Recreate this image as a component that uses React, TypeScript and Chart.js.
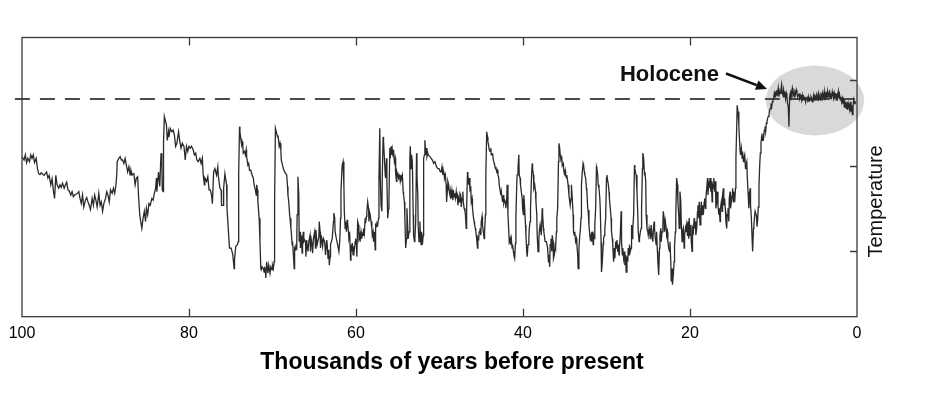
import React, { useEffect, useRef } from "react";
import { Chart, registerables } from "chart.js";

Chart.register(...registerables);

// Age in thousands of years before present
const AGE_KYR = [
  100.0, 99.75, 99.6, 99.45, 99.3, 99.1, 98.95, 98.8, 98.65, 98.5,
  98.3, 98.15, 98.0, 97.85, 97.7, 97.5, 97.35, 97.2, 97.05, 96.9,
  96.75, 96.55, 96.4, 96.25, 96.1, 95.95, 95.8, 95.6, 95.45, 95.3,
  95.15, 94.95, 94.8, 94.65, 94.5, 94.35, 94.15, 94.0, 93.85, 93.7,
  93.55, 93.35, 93.2, 93.05, 92.9, 92.75, 92.6, 92.4, 92.25, 92.1,
  91.95, 91.8, 91.6, 91.45, 91.3, 91.15, 91.0, 90.8, 90.65, 90.5,
  90.35, 90.2, 90.0, 89.85, 89.7, 89.55, 89.4, 89.2, 89.05, 88.9,
  88.75, 88.65, 88.6, 88.4, 88.25, 88.1, 87.95, 87.8, 87.65, 87.5,
  87.35, 87.2, 87.05, 86.95, 86.8, 86.6, 86.45, 86.3, 86.15, 86.05,
  85.9, 85.75, 85.65, 85.5, 85.35, 85.2, 85.1, 84.95, 84.8, 84.65,
  84.45, 84.3, 84.15, 84.0, 83.9, 83.85, 83.65, 83.5, 83.45, 83.35,
  83.25, 83.2, 83.1, 83.05, 82.95, 82.85, 82.7, 82.6, 82.45, 82.4,
  82.25, 82.05, 81.9, 81.75, 81.6, 81.45, 81.25, 81.1, 80.95, 80.8,
  80.6, 80.45, 80.3, 80.15, 80.0, 79.85, 79.7, 79.5, 79.35, 79.2,
  79.05, 78.9, 78.7, 78.55, 78.4, 78.3, 78.15, 78.1, 77.9, 77.75,
  77.6, 77.45, 77.3, 77.2, 77.05, 76.9, 76.7, 76.55, 76.5, 76.3,
  76.15, 76.1, 75.9, 75.85, 75.7, 75.5, 75.45, 75.3, 75.15, 74.95,
  74.75, 74.6, 74.55, 74.4, 74.2, 74.1, 74.05, 73.95, 73.9, 73.8,
  73.7, 73.65, 73.55, 73.5, 73.35, 73.25, 73.15, 73.1, 72.95, 72.85,
  72.75, 72.6, 72.45, 72.3, 72.2, 72.05, 71.95, 71.9, 71.8, 71.75,
  71.6, 71.5, 71.4, 71.35, 71.25, 71.1, 71.0, 70.95, 70.85, 70.8,
  70.7, 70.6, 70.55, 70.45, 70.3, 70.2, 70.05, 70.0, 69.9, 69.8,
  69.75, 69.65, 69.6, 69.5, 69.4, 69.35, 69.25, 69.2, 69.1, 69.0,
  68.95, 68.85, 68.7, 68.55, 68.4, 68.3, 68.2, 68.15, 68.05, 67.95,
  67.9, 67.8, 67.75, 67.65, 67.6, 67.5, 67.4, 67.35, 67.25, 67.2,
  67.1, 67.05, 66.95, 66.85, 66.8, 66.7, 66.65, 66.55, 66.45, 66.4,
  66.3, 66.25, 66.15, 66.05, 66.0, 65.9, 65.85, 65.75, 65.65, 65.5,
  65.45, 65.35, 65.25, 65.2, 65.1, 64.95, 64.85, 64.8, 64.7, 64.65,
  64.45, 64.4, 64.3, 64.25, 64.15, 64.0, 63.9, 63.75, 63.65, 63.5,
  63.45, 63.35, 63.25, 63.2, 63.1, 63.05, 62.85, 62.7, 62.65, 62.55,
  62.5, 62.35, 62.2, 62.05, 61.95, 61.85, 61.8, 61.7, 61.65, 61.55,
  61.45, 61.4, 61.3, 61.25, 61.15, 61.05, 61.0, 60.9, 60.85, 60.75,
  60.65, 60.6, 60.5, 60.45, 60.35, 60.25, 60.2, 60.1, 60.05, 59.95,
  59.9, 59.8, 59.7, 59.65, 59.55, 59.5, 59.4, 59.3, 59.25, 59.15,
  59.1, 59.0, 58.9, 58.85, 58.75, 58.7, 58.6, 58.5, 58.45, 58.35,
  58.3, 58.2, 58.1, 58.05, 57.95, 57.9, 57.8, 57.7, 57.65, 57.55,
  57.5, 57.4, 57.3, 57.25, 57.15, 57.1, 57.0, 56.9, 56.85, 56.75,
  56.7, 56.6, 56.5, 56.45, 56.35, 56.3, 56.2, 56.1, 56.05, 55.95,
  55.9, 55.8, 55.7, 55.65, 55.55, 55.5, 55.4, 55.3, 55.25, 55.15,
  55.1, 55.0, 54.9, 54.85, 54.75, 54.7, 54.6, 54.55, 54.45, 54.35,
  54.3, 54.2, 54.15, 54.05, 53.95, 53.9, 53.8, 53.75, 53.65, 53.55,
  53.5, 53.4, 53.35, 53.25, 53.15, 53.1, 53.0, 52.95, 52.85, 52.75,
  52.7, 52.6, 52.55, 52.45, 52.35, 52.3, 52.2, 52.15, 52.05, 51.95,
  51.9, 51.8, 51.75, 51.65, 51.55, 51.5, 51.4, 51.35, 51.15, 51.0,
  50.85, 50.7, 50.55, 50.35, 50.2, 50.05, 49.9, 49.8, 49.7, 49.6,
  49.55, 49.45, 49.4, 49.3, 49.2, 49.15, 49.05, 49.0, 48.9, 48.8,
  48.75, 48.65, 48.6, 48.5, 48.4, 48.35, 48.25, 48.2, 48.1, 48.0,
  47.95, 47.85, 47.8, 47.7, 47.6, 47.55, 47.45, 47.4, 47.3, 47.2,
  47.15, 47.05, 46.95, 46.9, 46.8, 46.75, 46.65, 46.6, 46.5, 46.45,
  46.35, 46.25, 46.2, 46.1, 46.05, 45.95, 45.85, 45.8, 45.7, 45.65,
  45.55, 45.45, 45.4, 45.3, 45.25, 45.15, 45.05, 45.0, 44.9, 44.85,
  44.75, 44.65, 44.6, 44.5, 44.45, 44.35, 44.25, 44.2, 44.1, 44.05,
  43.95, 43.85, 43.8, 43.7, 43.65, 43.55, 43.45, 43.4, 43.3, 43.25,
  43.15, 43.05, 43.0, 42.9, 42.85, 42.75, 42.65, 42.6, 42.5, 42.45,
  42.35, 42.3, 42.2, 42.1, 42.05, 41.95, 41.9, 41.8, 41.7, 41.65,
  41.55, 41.5, 41.4, 41.3, 41.25, 41.15, 41.1, 41.0, 40.9, 40.85,
  40.75, 40.7, 40.6, 40.5, 40.45, 40.35, 40.3, 40.2, 40.1, 40.05,
  39.95, 39.9, 39.8, 39.7, 39.65, 39.55, 39.5, 39.4, 39.3, 39.25,
  39.15, 39.1, 39.0, 38.9, 38.85, 38.75, 38.7, 38.6, 38.5, 38.45,
  38.35, 38.3, 38.2, 38.1, 38.05, 37.95, 37.9, 37.8, 37.7, 37.65,
  37.55, 37.5, 37.4, 37.35, 37.2, 37.05, 36.95, 36.9, 36.8, 36.75,
  36.65, 36.55, 36.5, 36.4, 36.35, 36.25, 36.15, 36.1, 36.0, 35.95,
  35.85, 35.75, 35.7, 35.6, 35.55, 35.45, 35.35, 35.3, 35.2, 35.15,
  35.05, 34.95, 34.9, 34.8, 34.75, 34.65, 34.6, 34.5, 34.4, 34.35,
  34.25, 34.2, 34.1, 34.0, 33.95, 33.85, 33.8, 33.7, 33.6, 33.55,
  33.45, 33.4, 33.3, 33.2, 33.15, 33.05, 33.0, 32.9, 32.8, 32.75,
  32.65, 32.6, 32.5, 32.4, 32.35, 32.25, 32.2, 32.1, 32.0, 31.95,
  31.85, 31.8, 31.7, 31.6, 31.55, 31.45, 31.4, 31.3, 31.2, 31.15,
  31.05, 31.0, 30.9, 30.8, 30.75, 30.65, 30.6, 30.5, 30.4, 30.35,
  30.25, 30.2, 30.1, 30.0, 29.95, 29.85, 29.8, 29.7, 29.65, 29.55,
  29.45, 29.4, 29.3, 29.25, 29.15, 29.05, 29.0, 28.9, 28.85, 28.75,
  28.65, 28.6, 28.5, 28.45, 28.35, 28.25, 28.2, 28.1, 28.05, 27.95,
  27.85, 27.8, 27.7, 27.65, 27.55, 27.45, 27.4, 27.3, 27.25, 27.15,
  27.05, 27.0, 26.9, 26.85, 26.75, 26.65, 26.6, 26.5, 26.45, 26.35,
  26.25, 26.2, 26.1, 26.05, 25.95, 25.85, 25.8, 25.7, 25.65, 25.55,
  25.45, 25.4, 25.3, 25.25, 25.15, 25.05, 25.0, 24.9, 24.85, 24.75,
  24.7, 24.65, 24.55, 24.45, 24.4, 24.3, 24.25, 24.15, 24.05, 24.0,
  23.9, 23.85, 23.75, 23.65, 23.6, 23.5, 23.45, 23.35, 23.25, 23.2,
  23.1, 23.05, 22.95, 22.85, 22.8, 22.7, 22.65, 22.55, 22.45, 22.4,
  22.3, 22.25, 22.15, 22.1, 22.0, 21.9, 21.85, 21.75, 21.7, 21.6,
  21.5, 21.45, 21.35, 21.3, 21.2, 21.1, 21.05, 20.95, 20.9, 20.8,
  20.7, 20.65, 20.55, 20.5, 20.4, 20.3, 20.25, 20.15, 20.1, 20.0,
  19.9, 19.85, 19.75, 19.7, 19.6, 19.5, 19.45, 19.35, 19.3, 19.2,
  19.1, 19.05, 18.95, 18.9, 18.8, 18.7, 18.65, 18.55, 18.5, 18.4,
  18.3, 18.25, 18.15, 18.1, 18.0, 17.9, 17.85, 17.75, 17.7, 17.6,
  17.5, 17.45, 17.35, 17.3, 17.2, 17.15, 17.05, 16.95, 16.9, 16.8,
  16.75, 16.65, 16.55, 16.5, 16.4, 16.35, 16.25, 16.15, 16.1, 16.0,
  15.95, 15.85, 15.75, 15.7, 15.6, 15.55, 15.45, 15.35, 15.3, 15.2,
  15.15, 15.05, 14.95, 14.9, 14.8, 14.75, 14.65, 14.55, 14.5, 14.4,
  14.35, 14.25, 14.15, 14.1, 14.0, 13.95, 13.85, 13.75, 13.7, 13.6,
  13.55, 13.45, 13.35, 13.3, 13.2, 13.15, 13.05, 12.95, 12.9, 12.8,
  12.75, 12.65, 12.55, 12.5, 12.4, 12.35, 12.25, 12.2, 12.05, 11.98,
  11.9, 11.82, 11.74, 11.66, 11.58, 11.5, 11.42, 11.34, 11.26, 11.18,
  11.1, 11.02, 10.94, 10.86, 10.78, 10.7, 10.62, 10.54, 10.46, 10.38,
  10.3, 10.22, 10.14, 10.06, 9.98, 9.9, 9.82, 9.75, 9.67, 9.59,
  9.51, 9.43, 9.35, 9.27, 9.19, 9.11, 9.03, 8.95, 8.87, 8.79,
  8.71, 8.63, 8.55, 8.47, 8.39, 8.31, 8.23, 8.15, 8.07, 7.99,
  7.91, 7.83, 7.75, 7.67, 7.59, 7.51, 7.43, 7.35, 7.27, 7.19,
  7.11, 7.03, 6.95, 6.87, 6.79, 6.71, 6.63, 6.55, 6.47, 6.39,
  6.31, 6.23, 6.15, 6.07, 5.99, 5.91, 5.83, 5.75, 5.67, 5.59,
  5.51, 5.43, 5.35, 5.27, 5.19, 5.11, 5.03, 4.95, 4.87, 4.79,
  4.72, 4.64, 4.56, 4.48, 4.4, 4.32, 4.24, 4.16, 4.08, 4.0,
  3.92, 3.84, 3.76, 3.68, 3.6, 3.52, 3.44, 3.36, 3.28, 3.2,
  3.12, 3.04, 2.96, 2.88, 2.8, 2.72, 2.64, 2.56, 2.48, 2.4,
  2.32, 2.24, 2.16, 2.08, 2.0, 1.92, 1.84, 1.76, 1.68, 1.6,
  1.52, 1.44, 1.36, 1.28, 1.2, 1.12, 1.04, 0.96, 0.88, 0.8,
  0.72, 0.64, 0.56, 0.48, 0.4, 0.32, 0.24, 0.1,
];

// Temperature proxy (arbitrary units; axis ticks sit at 10, 20, 30)
const TEMP = [
  21.1, 20.7, 21.3, 20.4, 20.9, 20.5, 21.3, 20.9, 21.3, 20.4,
  20.9, 19.7, 19.1, 19.0, 19.2, 19.0, 18.9, 19.1, 19.3, 18.6,
  18.9, 17.8, 18.5, 17.2, 16.2, 18.9, 17.8, 17.4, 17.8, 17.5,
  18.0, 17.4, 17.8, 18.1, 17.2, 17.1, 16.6, 17.0, 16.4, 16.6,
  16.7, 16.8, 17.0, 16.2, 15.6, 16.6, 15.2, 16.0, 16.3, 15.8,
  15.4, 14.9, 16.2, 15.4, 16.6, 16.0, 15.2, 16.8, 15.4, 15.8,
  14.7, 15.6, 16.2, 17.0, 16.6, 15.8, 17.2, 16.8, 17.4, 16.8,
  17.8, 19.0, 20.5, 20.9, 21.1, 20.7, 20.7, 20.3, 20.9, 20.1,
  19.3, 19.9, 18.95, 19.5, 18.95, 19.1, 17.8, 18.6, 18.75, 16.6,
  14.3, 13.3, 12.7, 13.9, 14.7, 13.5, 15.05, 14.3, 15.6, 15.4,
  16.2, 16.0, 16.8, 17.4, 18.6, 17.0, 19.3, 17.6, 18.95, 21.5,
  20.1, 17.2, 17.0, 22.85, 25.8, 25.4, 24.8, 23.0, 24.0, 23.4,
  24.4, 24.0, 24.2, 23.6, 22.3, 22.65, 24.0, 22.85, 22.1, 22.65,
  22.3, 20.7, 22.3, 21.7, 22.3, 22.1, 22.3, 21.9, 21.3, 21.5,
  20.7, 20.5, 20.9, 20.3, 20.9, 18.95, 17.8, 18.6, 18.2, 18.75,
  17.2, 17.2, 16.6, 15.6, 19.3, 19.7, 18.95, 19.9, 18.95, 17.4,
  17.2, 15.4, 15.4, 17.4, 19.1, 17.8, 15.05, 12.7, 10.4, 10.4,
  9.6, 8.0, 9.0, 10.6, 10.8, 11.15, 19.0, 24.6, 24.0, 23.2,
  22.5, 22.85, 22.3, 21.5, 21.7, 21.3, 21.9, 21.1, 20.1, 20.3,
  19.5, 19.5, 18.95, 18.6, 17.8, 17.2, 16.6, 17.8, 17.2, 15.8,
  13.9, 11.15, 8.0, 7.85, 8.2, 8.0, 7.6, 8.2, 7.6, 6.9,
  8.8, 8.0, 7.45, 8.4, 7.45, 8.2, 7.85, 8.4, 8.0, 8.8,
  15.8, 24.4, 24.4, 23.8, 23.4, 23.6, 22.85, 22.3, 22.65, 21.9,
  20.7, 20.3, 19.7, 19.3, 19.1, 18.95, 17.6, 16.6, 15.8, 14.3,
  13.9, 12.7, 12.3, 10.8, 11.15, 9.6, 8.0, 10.4, 10.2, 10.6,
  10.4, 14.3, 18.75, 16.6, 11.15, 12.3, 10.4, 11.9, 9.8, 11.5,
  12.3, 11.15, 11.35, 11.15, 9.4, 11.35, 10.8, 10.0, 11.15, 11.9,
  10.0, 11.35, 10.8, 9.8, 11.5, 12.3, 10.4, 12.5, 11.15, 10.8,
  11.7, 13.5, 12.3, 10.4, 11.9, 10.6, 11.5, 11.15, 9.6, 11.35,
  10.8, 9.2, 10.2, 8.4, 9.4, 10.8, 11.5, 13.5, 14.5, 13.9,
  12.3, 11.5, 10.8, 10.0, 11.15, 13.9, 17.0, 19.3, 20.1, 20.5,
  17.8, 14.7, 12.7, 13.5, 12.3, 13.7, 13.3, 12.3, 11.5, 11.9,
  9.0, 10.8, 10.0, 11.0, 9.6, 10.6, 10.2, 11.15, 11.5, 10.8,
  9.4, 13.5, 13.1, 11.5, 11.9, 11.15, 12.3, 11.5, 12.1, 11.9,
  12.7, 12.1, 13.9, 13.3, 14.1, 14.7, 15.8, 15.05, 13.5, 14.5,
  14.3, 13.5, 12.7, 11.9, 12.3, 11.15, 12.3, 10.2, 13.1, 12.9,
  13.3, 13.1, 13.9, 18.6, 24.4, 18.95, 15.4, 14.7, 18.95, 23.4,
  22.85, 20.9, 18.95, 18.6, 20.9, 18.2, 13.9, 15.05, 16.2, 22.1,
  20.9, 22.3, 21.3, 21.9, 21.1, 21.9, 20.5, 20.9, 19.1, 18.2,
  19.3, 18.95, 18.6, 18.95, 18.6, 18.2, 18.75, 18.6, 18.95, 17.0,
  16.6, 15.8, 13.9, 10.4, 11.5, 15.05, 12.7, 11.5, 12.3, 20.9,
  22.3, 19.7, 21.3, 20.5, 14.3, 11.9, 11.15, 11.5, 13.5, 21.5,
  18.95, 16.6, 12.9, 11.15, 13.5, 12.3, 10.8, 12.3, 10.8, 11.9,
  20.9, 21.3, 23.0, 21.3, 22.1, 21.1, 21.5, 21.3, 21.1, 20.9,
  20.7, 20.3, 20.5, 19.9, 19.7, 19.7, 19.3, 19.3, 19.9, 18.95,
  19.5, 19.1, 18.6, 18.95, 17.8, 15.8, 17.2, 18.2, 17.8, 16.8,
  16.6, 17.2, 16.2, 17.0, 16.0, 17.2, 16.4, 16.8, 16.2, 17.0,
  16.4, 16.6, 15.4, 16.2, 15.8, 16.8, 16.6, 15.2, 16.2, 17.0,
  15.8, 15.05, 14.7, 14.3, 12.7, 15.05, 19.3, 18.95, 17.8, 18.6,
  17.2, 17.4, 15.8, 16.2, 15.05, 14.1, 13.5, 13.1, 12.7, 12.3,
  11.5, 10.4, 11.7, 11.5, 12.3, 12.7, 11.9, 13.5, 14.1, 13.1,
  12.3, 11.5, 12.3, 14.3, 18.95, 24.0, 23.4, 22.85, 22.3, 21.9,
  21.7, 22.1, 21.3, 21.3, 21.5, 20.7, 20.3, 20.1, 19.7, 19.9,
  19.3, 19.5, 18.95, 18.6, 17.8, 17.2, 16.6, 17.0, 16.2, 15.8,
  16.6, 15.6, 16.0, 15.8, 15.05, 16.2, 17.8, 14.3, 12.3, 11.15,
  11.5, 10.8, 11.5, 10.4, 10.8, 10.0, 9.6, 9.2, 10.96, 13.9,
  17.8, 18.95, 19.7, 21.3, 18.95, 18.6, 17.8, 17.0, 16.2, 15.05,
  14.3, 16.6, 15.05, 13.1, 11.9, 9.98, 9.4, 10.8, 11.5, 12.7,
  13.5, 15.05, 18.2, 20.3, 19.7, 18.95, 17.4, 17.8, 17.0, 15.8,
  14.3, 11.9, 9.98, 11.5, 12.3, 13.1, 12.7, 11.9, 15.05, 14.3,
  12.7, 12.3, 11.5, 11.15, 11.15, 10.4, 8.8, 9.6, 8.2, 10.8,
  11.5, 10.0, 11.9, 11.15, 9.2, 9.6, 10.6, 10.4, 12.3, 13.9,
  15.05, 20.5, 22.65, 22.1, 21.3, 20.7, 20.9, 20.1, 20.3, 19.7,
  19.1, 19.5, 18.95, 18.6, 18.95, 18.2, 17.8, 16.6, 15.8, 15.4,
  16.2, 17.8, 16.2, 14.3, 12.3, 11.9, 12.3, 11.15, 11.5, 10.8,
  9.6, 8.0, 10.4, 11.9, 12.3, 13.9, 17.8, 19.3, 20.3, 20.1,
  19.3, 18.95, 18.6, 17.4, 17.0, 15.05, 14.85, 13.1, 11.9, 11.5,
  11.9, 11.15, 12.3, 10.8, 11.9, 11.5, 13.1, 15.05, 19.9, 19.7,
  18.95, 17.8, 17.4, 16.2, 15.05, 11.15, 7.6, 8.8, 10.8, 11.5,
  11.9, 12.7, 13.9, 18.6, 18.95, 18.2, 18.0, 17.0, 16.2, 15.05,
  13.9, 12.3, 11.5, 10.8, 8.8, 10.4, 9.2, 11.15, 10.4, 11.35,
  9.98, 10.8, 9.6, 10.4, 11.9, 14.7, 11.15, 9.6, 10.4, 9.2,
  10.0, 8.4, 9.6, 7.6, 9.4, 8.8, 10.4, 9.6, 10.8, 10.0,
  10.4, 13.1, 11.5, 12.7, 14.3, 20.1, 19.7, 19.1, 18.95, 17.0,
  14.3, 12.3, 11.15, 11.5, 12.3, 12.7, 15.05, 19.7, 21.5, 20.9,
  18.95, 19.3, 18.2, 14.3, 12.7, 12.3, 11.9, 12.7, 12.3, 11.5,
  12.3, 13.1, 11.9, 11.15, 12.3, 13.5, 12.7, 11.5, 10.8, 12.3,
  10.0, 8.8, 7.25, 10.4, 11.9, 12.7, 11.15, 12.3, 13.1, 14.7,
  13.9, 12.3, 13.5, 12.7, 11.9, 12.3, 11.15, 10.4, 10.0, 11.15,
  8.8, 6.5, 8.0, 6.1, 7.25, 8.8, 10.8, 12.3, 14.3, 18.6,
  17.8, 15.8, 14.3, 12.7, 17.0, 15.8, 13.5, 11.15, 12.3, 12.7,
  10.4, 11.9, 12.7, 12.3, 13.1, 11.9, 13.5, 11.5, 13.9, 11.9,
  13.1, 11.15, 10.0, 12.7, 12.3, 13.9, 12.7, 13.5, 11.9, 12.7,
  14.7, 15.4, 13.9, 15.8, 13.1, 15.05, 15.8, 14.3, 15.4, 14.3,
  15.8, 16.2, 15.05, 16.2, 17.4, 18.6, 16.6, 18.2, 17.4, 18.6,
  17.0, 18.2, 15.8, 17.8, 17.4, 18.6, 17.0, 18.2, 15.05, 15.8,
  17.0, 15.4, 14.3, 15.05, 13.5, 15.05, 15.8, 14.7, 16.6, 17.4,
  15.4, 16.2, 14.7, 13.5, 12.7, 14.3, 15.05, 13.5, 16.2, 17.0,
  15.05, 15.8, 16.6, 17.4, 15.8, 17.0, 15.8, 17.4, 20.9, 24.8,
  27.1, 26.35, 24.8, 23.6, 21.7, 21.3, 22.1, 20.9, 21.7, 20.5,
  20.9, 21.3, 19.7, 20.1, 20.5, 18.95, 17.0, 15.05, 16.2, 17.4,
  15.4, 13.9, 11.15, 10.0, 12.7, 13.1, 14.3, 14.7, 14.2, 12.9,
  13.7, 15.2, 17.6, 19.9, 21.5, 22.65, 23.4, 23.0, 23.8, 23.4,
  24.2, 24.6, 24.0, 25.0, 25.2, 25.6, 25.8, 26.0, 26.55, 26.75,
  27.3, 26.9, 27.5, 27.7, 27.9, 28.5, 28.1, 28.7, 28.3, 28.9,
  28.5, 29.1, 28.1, 28.7, 28.5, 28.9, 29.5, 28.5, 28.3, 28.9,
  28.1, 28.7, 27.9, 28.5, 28.1, 27.3, 26.9, 24.6, 28.1, 28.5,
  27.7, 28.7, 29.1, 28.3, 28.5, 28.1, 28.7, 28.5, 28.9, 28.5,
  28.1, 28.3, 28.5, 27.9, 28.3, 28.1, 27.7, 28.3, 27.9, 28.1,
  27.7, 28.1, 27.5, 27.9, 28.1, 27.7, 28.1, 27.5, 27.9, 27.7,
  28.1, 27.9, 27.5, 27.9, 28.3, 27.7, 28.1, 27.9, 28.3, 27.7,
  28.1, 28.5, 27.9, 28.1, 27.7, 28.3, 28.1, 28.5, 27.9, 28.1,
  28.7, 27.7, 28.3, 28.5, 27.9, 28.7, 28.1, 28.5, 28.7, 27.9,
  28.5, 28.1, 28.7, 28.3, 27.9, 28.5, 28.1, 28.3, 27.7, 28.5,
  28.1, 28.7, 27.9, 28.3, 27.7, 28.1, 27.5, 27.9, 27.3, 27.7,
  26.9, 27.5, 27.3, 26.75, 27.5, 26.55, 27.3, 26.9, 26.55, 27.5,
  26.35, 27.1, 26.0, 26.9, 27.7, 27.3, 27.5, 27.4,
];

const X_TICKS = [100, 80, 60, 40, 20, 0];
const Y_TICKS = [10, 20, 30];
const Y_RANGE = [2.37, 35.03];
const REFERENCE_LEVEL = 27.84; // dashed modern reference line
const REFERENCE_SPAN = [100.85, -0.1];
const HOLOCENE_ZONE = { age: 5.03, temp: 27.66, ageRadius: 5.87, tempRadius: 4.09 };
const HOLOCENE_LABEL = { text: "Holocene", age: 16.53, temp: 30.64 };
const HOLOCENE_ARROW = { fromAge: 15.69, fromTemp: 30.82, toAge: 10.78, toTemp: 29.0 };
const X_TITLE = "Thousands of years before present";
const X_TITLE_AGE = 48.5;
const Y_TITLE = "Temperature";
const Y_TITLE_TEMP = 15.85;

const FONT = '"Liberation Sans", Arial, Helvetica, sans-serif';

const overlayPlugin = {
  id: "overlay",
  beforeDraw(chart: any) {
    const { ctx, scales } = chart;
    const x = scales.x;
    const y = scales.y;
    const cx = x.getPixelForValue(HOLOCENE_ZONE.age);
    const cy = y.getPixelForValue(HOLOCENE_ZONE.temp);
    const rx = Math.abs(x.getPixelForValue(HOLOCENE_ZONE.age + HOLOCENE_ZONE.ageRadius) - cx);
    const ry = Math.abs(y.getPixelForValue(HOLOCENE_ZONE.temp + HOLOCENE_ZONE.tempRadius) - cy);
    ctx.save();
    ctx.fillStyle = "#d9d9d9";
    ctx.beginPath();
    ctx.ellipse(cx, cy, rx, ry, 0, 0, Math.PI * 2);
    ctx.fill();
    ctx.restore();
  },
  afterDraw(chart: any) {
    const { ctx, chartArea, scales } = chart;
    const { left, right, top, bottom } = chartArea;
    const x = scales.x;
    const y = scales.y;
    ctx.save();
    // frame
    ctx.strokeStyle = "#3a3a3a";
    ctx.lineWidth = 1.3;
    ctx.strokeRect(left, top, right - left, bottom - top);
    // inward ticks
    ctx.beginPath();
    X_TICKS.forEach((v) => {
      if (v <= 0 || v >= 100) return;
      const px = Math.round(x.getPixelForValue(v)) + 0.5;
      ctx.moveTo(px, bottom);
      ctx.lineTo(px, bottom - 8);
      ctx.moveTo(px, top);
      ctx.lineTo(px, top + 8);
    });
    Y_TICKS.forEach((v) => {
      const py = Math.round(y.getPixelForValue(v)) + 0.5;
      ctx.moveTo(right, py);
      ctx.lineTo(right - 7, py);
    });
    ctx.stroke();

    // Holocene label
    ctx.fillStyle = "#111";
    ctx.font = `bold 22px ${FONT}`;
    ctx.textAlign = "right";
    ctx.textBaseline = "middle";
    ctx.fillText(
      HOLOCENE_LABEL.text,
      x.getPixelForValue(HOLOCENE_LABEL.age),
      y.getPixelForValue(HOLOCENE_LABEL.temp)
    );

    // arrow
    const x1 = x.getPixelForValue(HOLOCENE_ARROW.fromAge);
    const y1 = y.getPixelForValue(HOLOCENE_ARROW.fromTemp);
    const x2 = x.getPixelForValue(HOLOCENE_ARROW.toAge);
    const y2 = y.getPixelForValue(HOLOCENE_ARROW.toTemp);
    const ang = Math.atan2(y2 - y1, x2 - x1);
    const head = 11;
    const half = 5;
    const bx = x2 - head * Math.cos(ang);
    const by = y2 - head * Math.sin(ang);
    ctx.strokeStyle = "#111";
    ctx.lineWidth = 2.6;
    ctx.beginPath();
    ctx.moveTo(x1, y1);
    ctx.lineTo(bx, by);
    ctx.stroke();
    ctx.beginPath();
    ctx.moveTo(x2, y2);
    ctx.lineTo(bx + half * Math.sin(ang), by - half * Math.cos(ang));
    ctx.lineTo(bx - half * Math.sin(ang), by + half * Math.cos(ang));
    ctx.closePath();
    ctx.fill();

    // x-axis title
    ctx.fillStyle = "#000";
    ctx.font = `bold 23px ${FONT}`;
    ctx.textAlign = "center";
    ctx.textBaseline = "alphabetic";
    ctx.fillText(X_TITLE, x.getPixelForValue(X_TITLE_AGE), bottom + 52.6);

    // right-hand axis title, reading bottom to top
    ctx.translate(right + 25, y.getPixelForValue(Y_TITLE_TEMP));
    ctx.rotate(-Math.PI / 2);
    ctx.font = `20px ${FONT}`;
    ctx.textAlign = "center";
    ctx.textBaseline = "alphabetic";
    ctx.fillStyle = "#111";
    ctx.fillText(Y_TITLE, 0, 0);
    ctx.restore();
  },
};

export default function App() {
  const ref = useRef<HTMLCanvasElement | null>(null);

  useEffect(() => {
    const canvas = ref.current;
    if (!canvas) return;
    Chart.defaults.font.family = FONT;
    const n = Math.min(AGE_KYR.length, TEMP.length);
    const series: { x: number; y: number }[] = [];
    for (let i = 0; i < n; i++) series.push({ x: AGE_KYR[i], y: TEMP[i] });
    const reference = REFERENCE_SPAN.map((a) => ({ x: a, y: REFERENCE_LEVEL }));

    const chart = new Chart(canvas, {
      type: "line",
      data: {
        datasets: [
          {
            label: "Temperature",
            data: series,
            borderColor: "#2a2a2a",
            borderWidth: 1.3,
            pointRadius: 0,
            tension: 0,
            fill: false,
          },
          {
            label: "Reference",
            data: reference,
            borderColor: "#4a4a4a",
            borderWidth: 2,
            borderDash: [15, 10],
            pointRadius: 0,
            fill: false,
            clip: false,
          } as any,
        ],
      },
      options: {
        responsive: false,
        animation: false,
        events: [],
        layout: { padding: { left: 22, top: 37.5, right: 0, bottom: 0 } },
        plugins: { legend: { display: false }, tooltip: { enabled: false } },
        scales: {
          x: {
            type: "linear",
            reverse: true,
            min: 0,
            max: 100,
            position: "bottom",
            afterBuildTicks: (s: any) => {
              s.ticks = X_TICKS.map((v) => ({ value: v }));
            },
            afterFit: (s: any) => {
              s.height = 87.3;
            },
            grid: { display: false, drawTicks: false },
            border: { display: false },
            ticks: {
              color: "#000",
              font: { size: 16 },
              padding: 7.7,
              maxRotation: 0,
              autoSkip: false,
            },
            title: { display: false },
          },
          y: {
            type: "linear",
            position: "right",
            min: Y_RANGE[0],
            max: Y_RANGE[1],
            afterBuildTicks: (s: any) => {
              s.ticks = Y_TICKS.map((v) => ({ value: v }));
            },
            afterFit: (s: any) => {
              s.width = 79;
            },
            grid: { display: false, drawTicks: false },
            border: { display: false },
            ticks: { display: false },
          },
        },
      } as any,
      plugins: [overlayPlugin],
    });
    return () => chart.destroy();
  }, []);

  return (
    <div
      style={{
        position: "absolute",
        left: 0,
        top: 0,
        width: 936,
        height: 404,
        background: "#fff",
      }}
    >
      <canvas
        ref={ref}
        width={936}
        height={404}
        style={{ display: "block", width: 936, height: 404 }}
      />
    </div>
  );
}
